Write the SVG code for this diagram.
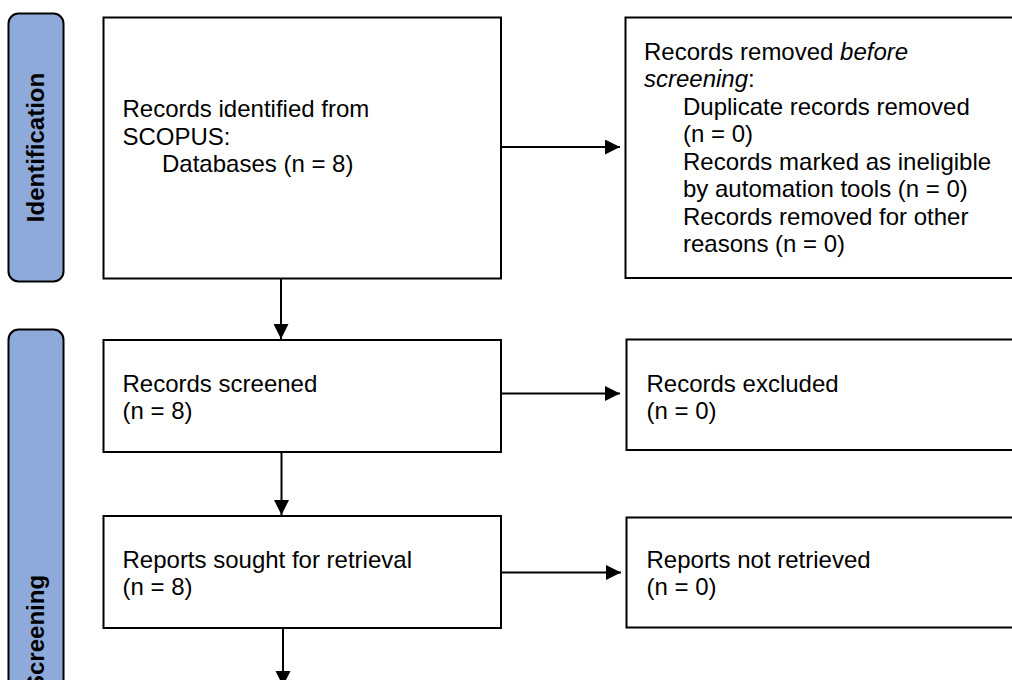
<svg xmlns="http://www.w3.org/2000/svg" width="1012" height="680" viewBox="0 0 1012 680">
  <defs>
    <style>
      .box { fill: #ffffff; stroke: #000000; stroke-width: 2; }
      .bar { fill: #8eaadb; stroke: #000000; stroke-width: 2; }
      .t { font-family: "Liberation Sans", Arial, sans-serif; font-size: 24px; fill: #000000; }
      .lab { font-family: "Liberation Sans", Arial, sans-serif; font-size: 24px; font-weight: bold; fill: #000000; }
      .conn { stroke: #000000; stroke-width: 2; fill: none; }
    </style>
    <marker id="arr" markerUnits="userSpaceOnUse" markerWidth="16" markerHeight="16" refX="15" refY="7.5" orient="auto">
      <path d="M0,0 L15,7.5 L0,15 Z" fill="#000000"/>
    </marker>
  </defs>
  <rect width="1012" height="680" fill="#ffffff"/>

  <g id="stage-identification">
    <rect class="bar" x="8.5" y="13.5" width="55" height="268" rx="10" ry="10"/>
    <text class="lab" text-anchor="middle" transform="translate(43.5,147.5) rotate(-90)">Identification</text>
  </g>

  <g id="stage-screening">
    <rect class="bar" x="8.5" y="329.5" width="55" height="500" rx="10" ry="10"/>
    <text class="lab" text-anchor="start" transform="translate(43.5,691) rotate(-90)">Screening</text>
  </g>

  <g id="identified">
    <rect class="box" x="103.5" y="17.5" width="397.5" height="261"/>
    <text class="t" x="122.5" y="117">Records identified from</text>
    <text class="t" x="122.5" y="144.5">SCOPUS:</text>
    <text class="t" x="162" y="172">Databases (n = 8)</text>
  </g>

  <g id="removed">
    <rect class="box" x="625.5" y="17.5" width="420" height="260.5"/>
    <text class="t" x="644" y="59.5">Records removed <tspan font-style="italic">before</tspan></text>
    <text class="t" x="644" y="87"><tspan font-style="italic">screening</tspan>:</text>
    <text class="t" x="683" y="114.5">Duplicate records removed</text>
    <text class="t" x="683" y="142">(n = 0)</text>
    <text class="t" x="683" y="169.5">Records marked as ineligible</text>
    <text class="t" x="683" y="197">by automation tools (n = 0)</text>
    <text class="t" x="683" y="224.5">Records removed for other</text>
    <text class="t" x="683" y="252">reasons (n = 0)</text>
  </g>

  <g id="screened">
    <rect class="box" x="103.5" y="340" width="397.5" height="112"/>
    <text class="t" x="122.5" y="391.5">Records screened</text>
    <text class="t" x="122.5" y="419">(n = 8)</text>
  </g>

  <g id="excluded">
    <rect class="box" x="626.5" y="339.5" width="420" height="110.5"/>
    <text class="t" x="646.5" y="391.5">Records excluded</text>
    <text class="t" x="646.5" y="419">(n = 0)</text>
  </g>

  <g id="sought">
    <rect class="box" x="103.5" y="516" width="397.5" height="112"/>
    <text class="t" x="122.5" y="568">Reports sought for retrieval</text>
    <text class="t" x="122.5" y="595">(n = 8)</text>
  </g>

  <g id="not-retrieved">
    <rect class="box" x="626.5" y="517.5" width="420" height="110"/>
    <text class="t" x="646.5" y="567.5">Reports not retrieved</text>
    <text class="t" x="646.5" y="595">(n = 0)</text>
  </g>

  <g id="connectors">
    <line class="conn" x1="502" y1="147" x2="620" y2="147" marker-end="url(#arr)"/>
    <line class="conn" x1="281" y1="279" x2="281" y2="339" marker-end="url(#arr)"/>
    <line class="conn" x1="502" y1="393.5" x2="620" y2="393.5" marker-end="url(#arr)"/>
    <line class="conn" x1="281.5" y1="452" x2="281.5" y2="515" marker-end="url(#arr)"/>
    <line class="conn" x1="502" y1="572.5" x2="621" y2="572.5" marker-end="url(#arr)"/>
    <line class="conn" x1="283" y1="628" x2="283" y2="686" marker-end="url(#arr)"/>
  </g>
</svg>
